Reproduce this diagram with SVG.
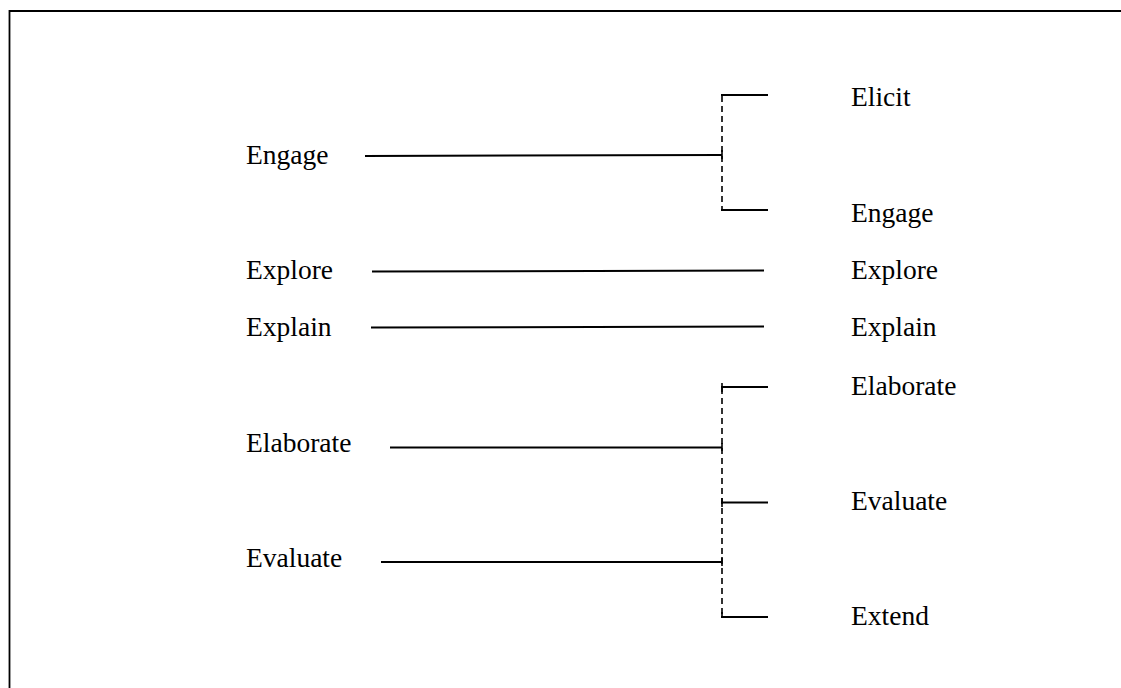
<svg xmlns="http://www.w3.org/2000/svg" width="1121" height="688" viewBox="0 0 1121 688">
  <style>
    .link { stroke: #000; stroke-width: 2; fill: none; }
    .dash { stroke: #000; stroke-width: 1.6; stroke-dasharray: 6 4; fill: none; }
    .tick { stroke: #000; stroke-width: 1.6; fill: none; }
  </style>
  <rect width="1121" height="688" fill="#fff"/>
  <!-- frame: only top and left edges fall inside the page -->
  <path d="M9.5 688 V11 H1121" stroke="#000" stroke-width="1.8" fill="none"/>

  <g font-family="'Liberation Serif', 'Times New Roman', Times, serif" font-size="27.5" fill="#000">
    <!-- left column: the five phases -->
    <g id="left-engage"><text x="246" y="164">Engage</text></g>
    <g id="left-explore"><text x="246" y="279">Explore</text></g>
    <g id="left-explain"><text x="246" y="336">Explain</text></g>
    <g id="left-elaborate"><text x="246" y="452">Elaborate</text></g>
    <g id="left-evaluate"><text x="246" y="567">Evaluate</text></g>

    <!-- right column: the seven phases -->
    <g id="right-elicit"><text x="851" y="106">Elicit</text></g>
    <g id="right-engage"><text x="851" y="222">Engage</text></g>
    <g id="right-explore"><text x="851" y="279">Explore</text></g>
    <g id="right-explain"><text x="851" y="336">Explain</text></g>
    <g id="right-elaborate"><text x="851" y="395">Elaborate</text></g>
    <g id="right-evaluate"><text x="851" y="510">Evaluate</text></g>
    <g id="right-extend"><text x="851" y="625">Extend</text></g>
  </g>

  <g id="connectors">
    <!-- Engage splits into Elicit + Engage -->
    <line class="link" x1="365" y1="156" x2="722" y2="155"/>
    <line class="dash" x1="722" y1="96" x2="722" y2="210"/>
    <line class="link" x1="721" y1="95" x2="768" y2="95"/>
    <line class="link" x1="721" y1="210" x2="768" y2="210"/>
    <line class="tick" x1="722" y1="150" x2="722" y2="159"/>

    <!-- one-to-one links -->
    <line class="link" x1="372" y1="271.5" x2="764" y2="270.5"/>
    <line class="link" x1="371" y1="327.5" x2="764" y2="326.5"/>

    <!-- Elaborate + Evaluate split into Elaborate, Evaluate, Extend -->
    <line class="link" x1="390" y1="447.5" x2="722" y2="447.5"/>
    <line class="link" x1="381" y1="562" x2="722" y2="562"/>
    <line class="dash" x1="722" y1="388" x2="722" y2="616"/>
    <line class="link" x1="721" y1="387" x2="768" y2="387"/>
    <line class="link" x1="721" y1="502.5" x2="768" y2="502.5"/>
    <line class="link" x1="721" y1="617" x2="768" y2="617"/>
    <line class="tick" x1="722" y1="383" x2="722" y2="392"/>
    <line class="tick" x1="722" y1="443" x2="722" y2="451"/>
    <line class="tick" x1="722" y1="498" x2="722" y2="507"/>
    <line class="tick" x1="722" y1="557" x2="722" y2="566"/>
    <line class="tick" x1="722" y1="612" x2="722" y2="618"/>
  </g>
</svg>
